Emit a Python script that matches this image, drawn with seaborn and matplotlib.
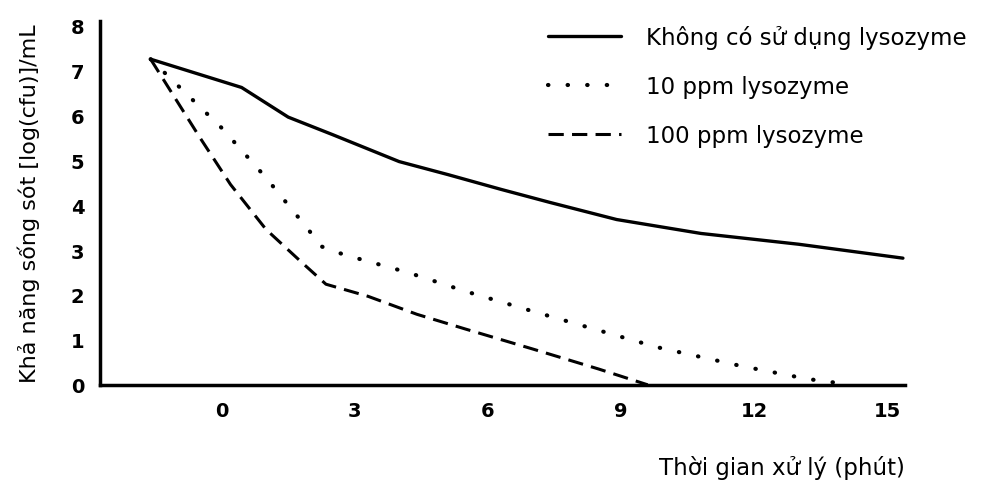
import matplotlib
matplotlib.use("Agg")
import matplotlib.pyplot as plt
import seaborn as sns
import pandas as pd

# data (time in minutes, survival log(cfu)/mL)
t_none = [-1.6, 0.45, 1.5, 2.5, 4.0, 5.1, 6.3, 7.4, 8.9, 10.8, 13.0, 15.35]
y_none = [7.25, 6.62, 5.96, 5.57, 4.97, 4.68, 4.35, 4.06, 3.68, 3.37, 3.13, 2.82]

t_10 = [-1.6, 0.0, 1.0, 1.95, 2.25, 2.75, 4.2, 5.5, 7.0, 8.4, 9.8, 11.7, 13.2, 14.2]
y_10 = [7.25, 5.72, 4.61, 3.46, 3.08, 2.9, 2.5, 2.08, 1.64, 1.24, 0.84, 0.42, 0.13, 0.0]

t_100 = [-1.6, -0.5, 0.2, 1.0, 1.8, 2.35, 3.3, 4.4, 5.5, 7.0, 8.5, 9.6]
y_100 = [7.25, 5.52, 4.46, 3.46, 2.73, 2.24, 1.97, 1.57, 1.24, 0.8, 0.35, 0.0]

labels = ["Không có sử dụng lysozyme", "10 ppm lysozyme", "100 ppm lysozyme"]
x_ticks = [0, 3, 6, 9, 12, 15]
y_ticks = [0, 1, 2, 3, 4, 5, 6, 7, 8]

sns.set_style("white")
plt.rcParams['font.family'] = ['DejaVu Sans']
plt.rcParams['text.color'] = 'black'
plt.rcParams['axes.labelcolor'] = 'black'
plt.rcParams['xtick.color'] = 'black'
plt.rcParams['ytick.color'] = 'black'

fig = plt.figure(figsize=(9.86, 4.89), dpi=100)
ax = fig.add_axes([0.101, 0.211, 0.817, 0.744])

styles = [
    dict(lw=2.4, ls="-"),
    dict(lw=3.0, ls=(0, (0.1, 4.6)), dash_capstyle="round"),
    dict(lw=2.2, ls=(0, (5, 2.7))),
]
series = [(t_none, y_none), (t_10, y_10), (t_100, y_100)]
for (t, y), lab, st in zip(series, labels, styles):
    df = pd.DataFrame({"t": t, "y": y})
    sns.lineplot(data=df, x="t", y="y", ax=ax, color="black", label=lab,
                 sort=False, estimator=None, **st)

ax.set_xlim(-2.75, 15.4)
ax.set_ylim(0, 8.1)
ax.set_xticks(x_ticks)
ax.set_yticks(y_ticks)
ax.tick_params(length=0, labelsize=14, pad=12)
ax.tick_params(axis="y", pad=11)
for lbl in ax.get_xticklabels() + ax.get_yticklabels():
    lbl.set_fontweight("bold")

for s in ["top", "right"]:
    ax.spines[s].set_visible(False)
for s in ["left", "bottom"]:
    ax.spines[s].set_linewidth(2.5)
    ax.spines[s].set_color("black")

ax.set_xlabel("")
ax.set_ylabel("Khả năng sống sót [log(cfu)]/mL", fontsize=16, labelpad=22)
fig.text(0.918, 0.018, "Thời gian xử lý (phút)", ha="right", va="bottom", fontsize=16.5)

leg = ax.legend(loc="upper left", bbox_to_anchor=(0.545, 1.015), frameon=False,
                fontsize=16.5, handlelength=3.2, handletextpad=1.1, labelspacing=1.15,
                borderaxespad=0)

fig.savefig("out.png", dpi=100)
